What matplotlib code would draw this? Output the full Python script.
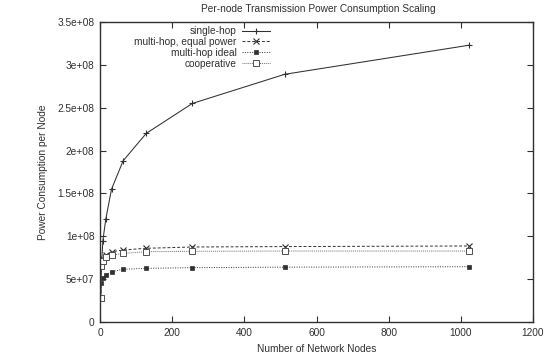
import matplotlib
matplotlib.use("Agg")
import matplotlib.pyplot as plt
from matplotlib.ticker import FixedLocator

plt.rcParams['font.family'] = ['Liberation Sans', 'DejaVu Sans']

nodes = [2, 4, 8, 16, 32, 64, 128, 256, 512, 1024]
single_hop = [2.8e7, 6.5e7, 9.5e7, 1.2e8, 1.55e8, 1.88e8, 2.2e8, 2.55e8, 2.89e8, 3.23e8]
multi_equal = [2.8e7, 6.8e7, 7.4e7, 7.8e7, 8.2e7, 8.4e7, 8.6e7, 8.75e7, 8.8e7, 8.87e7]
multi_ideal = [2.8e7, 4.5e7, 5.1e7, 5.5e7, 5.87e7, 6.15e7, 6.26e7, 6.34e7, 6.4e7, 6.45e7]
cooperative = [2.8e7, 6.5e7, 7.1e7, 7.55e7, 7.8e7, 8.0e7, 8.2e7, 8.25e7, 8.28e7, 8.28e7]

series_labels = ["single-hop", "multi-hop, equal power", "multi-hop ideal", "cooperative"]
x_ticks = [0, 200, 400, 600, 800, 1000, 1200]
y_ticks = [0, 5e7, 1e8, 1.5e8, 2e8, 2.5e8, 3e8, 3.5e8]
y_tick_labels = ["0", "5e+07", "1e+08", "1.5e+08", "2e+08", "2.5e+08", "3e+08", "3.5e+08"]

title = "Per-node Transmission Power Consumption Scaling"
xlabel = "Number of Network Nodes"
ylabel = "Power Consumption per Node"

fs = 7.3
fig = plt.figure(figsize=(5.49, 3.55), dpi=100)
ax = fig.add_axes([100/549, 1-322/355, 433/549, 300/355])

c = "#303030"
ax.plot(nodes, single_hop, color=c, lw=0.75, ls="-", marker="+", ms=5, mew=0.8,
        label=series_labels[0])
ax.plot(nodes, multi_equal, color=c, lw=0.7, ls=(0, (3, 2)), marker="x", ms=4, mew=0.8,
        label=series_labels[1])
ax.plot(nodes, multi_ideal, color=c, lw=0.7, ls=(0, (1, 1.5)), marker="s", ms=3, mew=0.5,
        mfc=c, label=series_labels[2])
ax.plot(nodes, cooperative, color="#707070", lw=0.7, ls=(0, (1, 1)), marker="s", ms=4, mew=0.7,
        mfc="white", mec="#505050", label=series_labels[3])

ax.set_xlim(0, 1200)
ax.set_ylim(0, 3.5e8)
ax.xaxis.set_major_locator(FixedLocator(x_ticks))
ax.yaxis.set_major_locator(FixedLocator(y_ticks))
ax.set_xticklabels([str(t) for t in x_ticks])
ax.set_yticklabels(y_tick_labels)
ax.tick_params(direction="in", top=True, right=True, length=4, width=0.8,
               labelsize=fs, colors=c, pad=4)
for s in ax.spines.values():
    s.set_linewidth(1.0)
    s.set_color(c)

fig.text(318/549, 1-9/355, title, ha="center", va="center", fontsize=fs, color=c)
ax.set_xlabel(xlabel, fontsize=fs, color=c, labelpad=5)
ax.set_ylabel(ylabel, fontsize=fs, color=c, labelpad=7)

leg = ax.legend(loc="upper right", bbox_to_anchor=(277/549, 1-19/355),
                bbox_transform=fig.transFigure, frameon=False, markerfirst=False,
                fontsize=fs, handlelength=2.8, handletextpad=0.5, labelspacing=0.08,
                numpoints=1, borderpad=0.2)
for t in leg.get_texts():
    t.set_color(c)

fig.savefig("out.png", dpi=100)
